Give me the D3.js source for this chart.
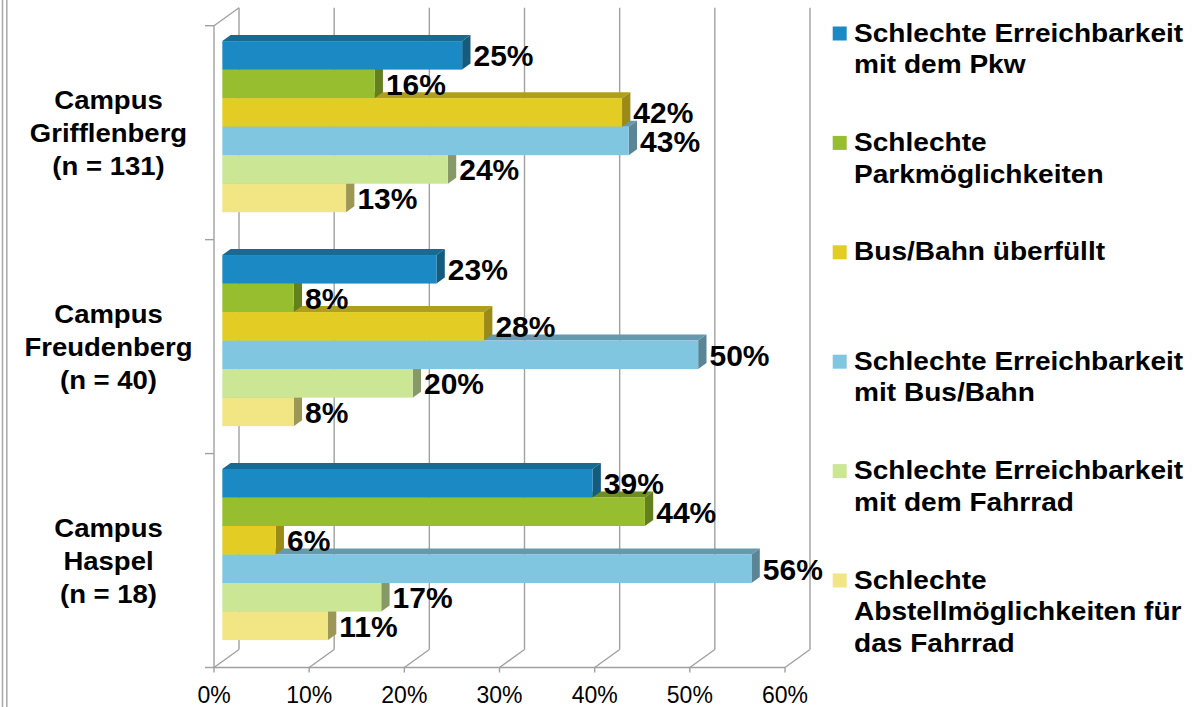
<!DOCTYPE html>
<html>
<head>
<meta charset="utf-8">
<script src="https://cdn.jsdelivr.net/npm/d3@7"></script>
<style>
  html, body { margin: 0; padding: 0; background: #ffffff; }
  svg { display: block; }
  text { font-family: "Liberation Sans", Arial, sans-serif; }
</style>
</head>
<body>
<svg id="chart" width="1193" height="707"></svg>
<script>
// ---------- DATA ----------
const categories = ["Campus Grifflenberg (n = 131)", "Campus Freudenberg (n = 40)", "Campus Haspel (n = 18)"];
const categoryLines = [
  ["Campus", "Grifflenberg", "(n = 131)"],
  ["Campus", "Freudenberg", "(n = 40)"],
  ["Campus", "Haspel", "(n = 18)"]
];
const seriesNames = [
  "Schlechte Erreichbarkeit mit dem Pkw",
  "Schlechte Parkmöglichkeiten",
  "Bus/Bahn überfüllt",
  "Schlechte Erreichbarkeit mit Bus/Bahn",
  "Schlechte Erreichbarkeit mit dem Fahrrad",
  "Schlechte Abstellmöglichkeiten für das Fahrrad"
];
const legendLines = [
  ["Schlechte Erreichbarkeit", "mit dem Pkw"],
  ["Schlechte", "Parkmöglichkeiten"],
  ["Bus/Bahn überfüllt"],
  ["Schlechte Erreichbarkeit", "mit Bus/Bahn"],
  ["Schlechte Erreichbarkeit", "mit dem Fahrrad"],
  ["Schlechte", "Abstellmöglichkeiten für", "das Fahrrad"]
];
// values in percent, per series, in category order
const valuesPkw         = [25.2, 22.5, 38.9];
const valuesPark        = [16.0, 7.5, 44.4];
const valuesUeberfuellt = [42.0, 27.5, 5.6];
const valuesBusBahn     = [42.7, 50.0, 55.6];
const valuesFahrrad     = [23.7, 20.0, 16.7];
const valuesAbstell     = [13.0, 7.5, 11.1];
// data labels as shown
const labelsPkw         = ["25%", "23%", "39%"];
const labelsPark        = ["16%", "8%", "44%"];
const labelsUeberfuellt = ["42%", "28%", "6%"];
const labelsBusBahn     = ["43%", "50%", "56%"];
const labelsFahrrad     = ["24%", "20%", "17%"];
const labelsAbstell     = ["13%", "8%", "11%"];
const seriesValues = [valuesPkw, valuesPark, valuesUeberfuellt, valuesBusBahn, valuesFahrrad, valuesAbstell];
const seriesLabels = [labelsPkw, labelsPark, labelsUeberfuellt, labelsBusBahn, labelsFahrrad, labelsAbstell];
const xTicks = [0, 10, 20, 30, 40, 50, 60];

// colours: front, top, side
const frontColors = ["#1b8ac4", "#96be2e", "#e3cd24", "#80c6e1", "#cbe796", "#f1e584"];
const topColors   = ["#176a92", "#6f8d22", "#b09f1e", "#6499ae", "#9db373", "#bcb267"];
const sideColors  = ["#145c7e", "#64801c", "#9c8a17", "#5a8597", "#879966", "#9d9755"];

// ---------- LAYOUT ----------
const svg = d3.select("#chart");
const X0 = 214, X1 = 785, YT = 25.7, YB = 667.5;
const DX = 25, DY = -18;            // wall depth
const bdx = DX / 3, bdy = DY / 3;   // bar front offset / bar depth

const x = d3.scaleLinear().domain([0, 60]).range([X0, X1]);
const yCat = d3.scaleBand().domain(categories).range([YT, YB]).padding(0);
const ySer = d3.scaleBand().domain(seriesNames)
  .range([yCat.bandwidth() * 0.1, yCat.bandwidth() * 0.9]).padding(0);

// left border lines (slide frame)
svg.append("line").attr("x1", 2.5).attr("x2", 2.5).attr("y1", 0).attr("y2", 707)
  .attr("stroke", "#a8a8a8").attr("stroke-width", 1.5);
svg.append("line").attr("x1", 6.8).attr("x2", 6.8).attr("y1", 0).attr("y2", 707)
  .attr("stroke", "#a8a8a8").attr("stroke-width", 1.5);

const grid = svg.append("g").attr("stroke", "#a0a0a0").attr("stroke-width", 1.4).attr("fill", "none");
// back wall vertical gridlines + floor diagonals
xTicks.forEach(t => {
  grid.append("line").attr("x1", x(t) + DX).attr("x2", x(t) + DX)
    .attr("y1", YT + DY).attr("y2", YB + DY);
  grid.append("line").attr("x1", x(t)).attr("x2", x(t) + DX)
    .attr("y1", YB).attr("y2", YB + DY);
  grid.append("line").attr("x1", x(t)).attr("x2", x(t))
    .attr("y1", YB).attr("y2", YB + 5);
});
// left wall top diagonal
grid.append("line").attr("x1", X0).attr("x2", X0 + DX).attr("y1", YT).attr("y2", YT + DY);
// front axes
grid.append("line").attr("x1", X0).attr("x2", X0).attr("y1", YT).attr("y2", YB);
grid.append("line").attr("x1", X0).attr("x2", X1).attr("y1", YB).attr("y2", YB);
// category tick marks
[YT].concat(categories.map(c => yCat(c) + yCat.bandwidth())).forEach(yy => {
  grid.append("line").attr("x1", X0 - 9).attr("x2", X0).attr("y1", yy).attr("y2", yy);
});

// x tick labels
svg.append("g").selectAll("text").data(xTicks).join("text")
  .attr("x", d => x(d)).attr("y", 703)
  .attr("text-anchor", "middle")
  .attr("font-size", 23).attr("fill", "#000")
  .text(d => d + "%");

// ---------- BARS ----------
const bars = svg.append("g");
categories.forEach((cat, ci) => {
  for (let si = seriesNames.length - 1; si >= 0; si--) {
    const v = seriesValues[si][ci];
    const y0 = yCat(cat) + ySer(seriesNames[si]) + bdy;
    const h = ySer.bandwidth();
    const xl = x(0) + bdx, xr = x(v) + bdx;
    const g = bars.append("g");
    // top face
    g.append("path").attr("fill", topColors[si])
      .attr("d", `M${xl},${y0} L${xl + bdx},${y0 + bdy} L${xr + bdx},${y0 + bdy} L${xr},${y0} Z`);
    // side face
    g.append("path").attr("fill", sideColors[si])
      .attr("d", `M${xr},${y0} L${xr + bdx},${y0 + bdy} L${xr + bdx},${y0 + h + bdy} L${xr},${y0 + h} Z`);
    // front face
    g.append("rect").attr("x", xl).attr("y", y0).attr("width", xr - xl).attr("height", h)
      .attr("fill", frontColors[si]);
  }
});

// value labels
const labels = svg.append("g");
categories.forEach((cat, ci) => {
  seriesNames.forEach((s, si) => {
    const v = seriesValues[si][ci];
    const yc = yCat(cat) + ySer(s) + bdy + ySer.bandwidth() / 2;
    labels.append("text")
      .attr("x", x(v) + 2 * bdx + 3).attr("y", yc + 11)
      .attr("font-size", 30).attr("font-weight", "bold").attr("fill", "#000")
      .text(seriesLabels[si][ci]);
  });
});

// category labels
categories.forEach((cat, ci) => {
  const cy = yCat(cat) + yCat.bandwidth() / 2;
  categoryLines[ci].forEach((ln, li) => {
    svg.append("text")
      .attr("transform", `translate(108.5,${cy + 9.5 + (li - 1) * 33}) scale(1.1,1)`)
      .attr("text-anchor", "middle")
      .attr("font-size", 25).attr("font-weight", "bold").attr("fill", "#000")
      .text(ln);
  });
});

// ---------- LEGEND ----------
const legend = svg.append("g");
seriesNames.forEach((s, si) => {
  const by = 41.5 + si * 109.4;
  legend.append("rect").attr("x", 832.7).attr("y", by - 15).attr("width", 14).attr("height", 14)
    .attr("fill", frontColors[si]);
  legendLines[si].forEach((ln, li) => {
    legend.append("text")
      .attr("transform", `translate(854,${by + li * 31.7}) scale(1.08,1)`)
      .attr("font-size", 26).attr("font-weight", "bold").attr("fill", "#000")
      .text(ln);
  });
});
</script>
</body>
</html>
